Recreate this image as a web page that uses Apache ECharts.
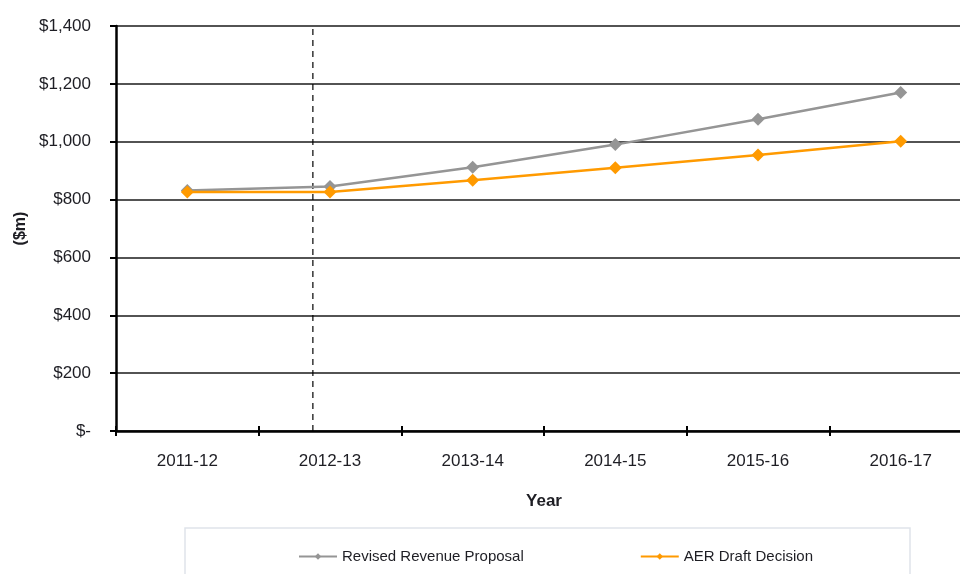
<!DOCTYPE html>
<html>
<head>
<meta charset="utf-8">
<script src="https://cdn.jsdelivr.net/npm/echarts@6/dist/echarts.min.js"></script>
<style>
  html, body { margin: 0; padding: 0; background: #ffffff; }
  #chart { width: 960px; height: 574px; }
</style>
</head>
<body>
<div id="chart"></div>
<script>
// Financial years on the category axis
const years = ['2011-12', '2012-13', '2013-14', '2014-15', '2015-16', '2016-17'];

// Revenue in $m
const revisedProposal = [831, 845, 912, 990, 1078, 1170];
const aerDraft = [826, 826, 867, 910, 954, 1002];

// Value-axis ticks and their labels
const yTicks = [0, 200, 400, 600, 800, 1000, 1200, 1400];
const yTickLabels = ['$-', '$200', '$400', '$600', '$800', '$1,000', '$1,200', '$1,400'];

// Position (in category units) of the dashed divider
const dividerAt = [0.88];

const seriesNames = ['Revised Revenue Proposal', 'AER Draft Decision'];

const textColor = '#1e1e24';
const font = 'Liberation Sans, Arial, sans-serif';

const chart = echarts.init(document.getElementById('chart'), null, { renderer: 'canvas' });

chart.setOption({
  backgroundColor: '#ffffff',
  animation: false,
  // plot area runs past the right edge of the canvas
  grid: { left: 116, top: 26, width: 856, height: 405, containLabel: false, outerBoundsMode: 'none' },
  graphic: [{
    type: 'rect',
    shape: { x: 185, y: 528, width: 725, height: 60 },
    style: { fill: '#ffffff', stroke: '#dfe4ea', lineWidth: 1.5 },
    z: -1
  }],
  legend: {
    left: 293,
    top: 544,
    itemWidth: 38,
    itemHeight: 8,
    itemGap: 116,
    data: seriesNames,
    textStyle: { fontFamily: font, fontSize: 15, color: textColor }
  },
  xAxis: [{
    type: 'category',
    data: years,
    boundaryGap: true,
    name: 'Year',
    nameLocation: 'middle',
    nameGap: 62,
    nameTextStyle: { fontFamily: font, fontSize: 17, fontWeight: 'bold', color: textColor },
    axisLine: { show: true, onZero: false, lineStyle: { color: '#000', width: 2.5 } },
    axisTick: { show: true, alignWithLabel: false, length: 5, lineStyle: { color: '#000', width: 2 } },
    axisLabel: { fontFamily: font, fontSize: 17, color: textColor, margin: 22 },
    splitLine: { show: false }
  }, {
    type: 'value',
    min: -0.5,
    max: 5.5,
    show: false
  }, {
    type: 'category',
    data: years,
    position: 'bottom',
    boundaryGap: true,
    axisLine: { show: false },
    axisTick: { show: true, inside: true, length: 5, lineStyle: { color: '#000', width: 2 } },
    axisLabel: { show: false },
    splitLine: { show: false }
  }],
  yAxis: {
    type: 'value',
    min: 0,
    max: 1400,
    interval: 200,
    name: '($m)',
    nameLocation: 'middle',
    nameRotate: 90,
    nameGap: 82,
    nameTextStyle: { fontFamily: font, fontSize: 16, fontWeight: 'bold', color: textColor },
    axisLine: { show: true, onZero: false, lineStyle: { color: '#000', width: 2.5 } },
    axisTick: { show: true, length: 6, lineStyle: { color: '#000', width: 2 } },
    axisLabel: {
      fontFamily: font, fontSize: 17, color: textColor, margin: 25,
      formatter: function (v) { return yTickLabels[yTicks.indexOf(v)]; }
    },
    splitLine: { show: true, lineStyle: { color: '#1a1a1a', width: 1.5 } }
  },
  series: [{
    name: 'divider',
    type: 'line',
    xAxisIndex: 1,
    data: [[dividerAt[0], yTicks[0]], [dividerAt[0], yTicks[yTicks.length - 1]]],
    symbol: 'none',
    silent: true,
    lineStyle: { color: '#000', width: 1.2, type: [6, 5] },
    z: 1
  }, {
    name: seriesNames[0],
    type: 'line',
    data: revisedProposal,
    symbol: 'diamond',
    symbolSize: 13,
    itemStyle: { color: '#959595' },
    lineStyle: { color: '#959595', width: 2.5 },
    z: 3
  }, {
    name: seriesNames[1],
    type: 'line',
    data: aerDraft,
    symbol: 'diamond',
    symbolSize: 13,
    itemStyle: { color: '#ff9a00' },
    lineStyle: { color: '#ff9a00', width: 2.5 },
    z: 4
  }]
});
</script>
</body>
</html>
